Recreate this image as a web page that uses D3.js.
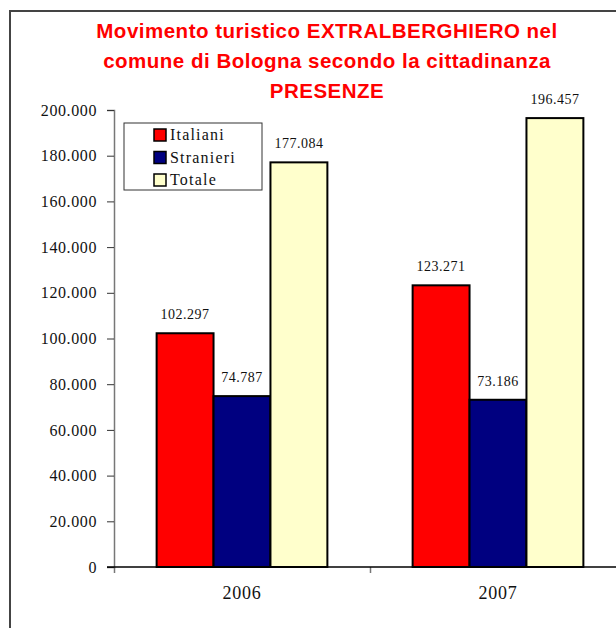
<!DOCTYPE html>
<html>
<head>
<meta charset="utf-8">
<script src="https://cdn.jsdelivr.net/npm/d3@7"></script>
<style>
  body { margin: 0; background: #fff; }
  svg { display: block; }
  .tick text { font-family: "Liberation Serif", "Times New Roman", serif; }
</style>
</head>
<body>
<svg width="616" height="628"></svg>
<script>
// data
var years = ["2006", "2007"];
var series = ["Italiani", "Stranieri", "Totale"];
var colors = ["#ff0000", "#000080", "#ffffcc"];
var italiani = [102297, 123271];
var stranieri = [74787, 73186];
var totale = [177084, 196457];
var yTicks = [0, 20000, 40000, 60000, 80000, 100000, 120000, 140000, 160000, 180000, 200000];
var titleLines = ["Movimento turistico EXTRALBERGHIERO nel", "comune di Bologna secondo la cittadinanza", "PRESENZE"];

var values = [italiani, stranieri, totale];

var svg = d3.select("svg"),
    margin = {top: 110, right: -10, bottom: 61, left: 114},
    width = +svg.attr("width") - margin.left - margin.right,
    height = +svg.attr("height") - margin.top - margin.bottom,
    g = svg.append("g")
      .attr("transform", "translate(" + margin.left + "," + margin.top + ")");

var fmt = function(v) { return d3.format(",")(v).replace(/,/g, "."); };
var serif = "'Liberation Serif', 'Times New Roman', serif";

// frame
svg.append("rect")
    .attr("x", 10).attr("y", 11)
    .attr("width", 620).attr("height", 640)
    .attr("fill", "none")
    .attr("stroke", "#444")
    .attr("stroke-width", 2);

// title
svg.append("g").selectAll("text")
    .data(titleLines)
  .enter().append("text")
    .attr("x", 327)
    .attr("y", function(d, i) { return 38 + i * 30; })
    .attr("text-anchor", "middle")
    .attr("fill", "#ff0000")
    .style("font-family", "'Liberation Sans', Arial, sans-serif")
    .style("font-weight", "bold")
    .style("font-size", "20.5px")
    .style("letter-spacing", "0.5px")
    .text(function(d) { return d; });

var x0 = d3.scaleBand()
    .domain(years)
    .range([0, width])
    .paddingInner(0.333)
    .paddingOuter(0.1665);

var x1 = d3.scaleBand()
    .domain(series)
    .range([0, x0.bandwidth()]);

var y = d3.scaleLinear()
    .domain([0, 200000])
    .range([height, 0]);

// y axis
var yAxis = g.append("g")
    .call(d3.axisLeft(y).tickValues(yTicks).tickFormat(fmt).tickSize(7).tickPadding(10));
yAxis.select(".domain").attr("stroke", "#777").attr("stroke-width", 1.5);
yAxis.selectAll(".tick line").attr("stroke", "#333");
yAxis.selectAll(".tick text")
    .style("font-size", "16px")
    .style("letter-spacing", "0.6px")
    .attr("fill", "#111");

// x axis
var xCat = d3.scaleLinear().domain([0, 2]).range([0, width]);
var xAxis = g.append("g")
    .attr("transform", "translate(0," + height + ")")
    .call(d3.axisBottom(xCat).tickValues([0, 1, 2]).tickFormat("").tickSize(6).tickSizeOuter(0));
xAxis.select(".domain").remove();
xAxis.selectAll(".tick line").attr("stroke", "#777").attr("stroke-width", 1.5);

g.append("line")
    .attr("x1", -7).attr("x2", width)
    .attr("y1", height).attr("y2", height)
    .attr("stroke", "#000").attr("stroke-width", 1.5);

g.selectAll(".cat")
    .data(years)
  .enter().append("text")
    .attr("class", "cat")
    .attr("x", function(d, i) { return xCat(i + 0.5); })
    .attr("y", height + 32)
    .attr("text-anchor", "middle")
    .style("font-family", serif)
    .style("font-size", "18px")
    .style("letter-spacing", "0.8px")
    .attr("fill", "#111")
    .text(function(d) { return d; });

// bars
var groups = g.selectAll(".year")
    .data(years)
  .enter().append("g")
    .attr("transform", function(d) { return "translate(" + x0(d) + ",0)"; });

function rows(d, i) {
  return series.map(function(s, j) { return {s: s, j: j, v: values[j][i]}; });
}

groups.selectAll("rect")
    .data(rows)
  .enter().append("rect")
    .attr("x", function(d) { return x1(d.s); })
    .attr("y", function(d) { return y(d.v); })
    .attr("width", x1.bandwidth())
    .attr("height", function(d) { return height - y(d.v); })
    .attr("fill", function(d) { return colors[d.j]; })
    .attr("stroke", "#000")
    .attr("stroke-width", 2);

groups.selectAll(".lbl")
    .data(rows)
  .enter().append("text")
    .attr("class", "lbl")
    .attr("x", function(d) { return x1(d.s) + x1.bandwidth() / 2; })
    .attr("y", function(d) { return y(d.v) - 14; })
    .attr("text-anchor", "middle")
    .style("font-family", serif)
    .style("font-size", "14px")
    .style("letter-spacing", "0.5px")
    .attr("fill", "#111")
    .text(function(d) { return fmt(d.v); });

// legend
var legend = svg.append("g").attr("transform", "translate(124,123)");
legend.append("rect")
    .attr("width", 138).attr("height", 67)
    .attr("fill", "#fff").attr("stroke", "#333").attr("stroke-width", 1);

var item = legend.selectAll(".item")
    .data(series)
  .enter().append("g")
    .attr("transform", function(d, i) { return "translate(30," + (6 + i * 22.5) + ")"; });
item.append("rect")
    .attr("width", 12).attr("height", 12)
    .attr("fill", function(d, i) { return colors[i]; })
    .attr("stroke", "#000").attr("stroke-width", 1.5);
item.append("text")
    .attr("x", 16).attr("y", 11)
    .style("font-family", serif)
    .style("font-size", "16px")
    .style("letter-spacing", "1.2px")
    .attr("fill", "#111")
    .text(function(d) { return d; });
</script>
</body>
</html>
